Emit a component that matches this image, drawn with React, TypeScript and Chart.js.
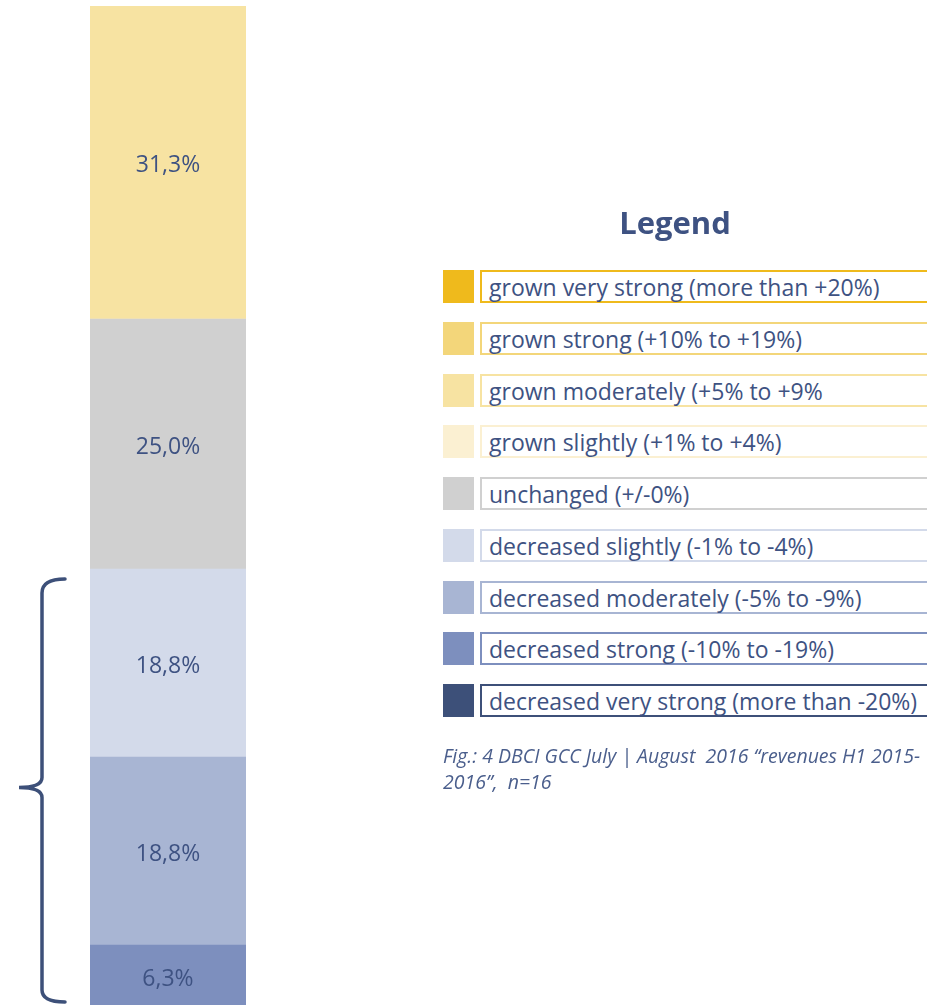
import React, { useEffect, useRef } from "react";
import { Chart, registerables } from "chart.js";

Chart.register(...registerables);

const categories = [
  "grown very strong (more than +20%)",
  "grown strong (+10% to +19%)",
  "grown moderately (+5% to +9%",
  "grown slightly (+1% to +4%)",
  "unchanged (+/-0%)",
  "decreased slightly (-1% to -4%)",
  "decreased moderately (-5% to -9%)",
  "decreased strong (-10% to -19%)",
  "decreased very strong (more than -20%)",
];
const colors = [
  "#EFBA1C",
  "#F3D67A",
  "#F7E3A2",
  "#FBF0D2",
  "#D0D0D0",
  "#D3DAEA",
  "#A8B5D3",
  "#7D8FBE",
  "#3D5079",
];
const values = [0, 0, 31.3, 0, 25.0, 18.8, 18.8, 6.3, 0];
const legendTitle = "Legend";
const captionLines = [
  "Fig.: 4 DBCI GCC July | August  2016 \u201crevenues H1 2015-",
  "2016\u201d,  n=16",
];

const TEXT = "#3E5282";
const FONT = "'Open Sans', sans-serif";

const labelPlugin = {
  id: "segLabels",
  afterDatasetsDraw(chart: any) {
    const ctx = chart.ctx;
    ctx.save();
    ctx.font = `23px ${FONT}`;
    ctx.fillStyle = TEXT;
    ctx.textAlign = "center";
    ctx.textBaseline = "middle";
    chart.data.datasets.forEach((ds: any, i: number) => {
      const v = ds.data[0];
      if (!v) return;
      const el = chart.getDatasetMeta(i).data[0];
      const yc = (el.y + el.base) / 2;
      ctx.fillText(v.toFixed(1).replace(".", ",") + "%", el.x, yc + 3);
    });
    ctx.restore();
  },
};

const bracePlugin = {
  id: "brace",
  afterDraw(chart: any) {
    const ctx = chart.ctx;
    const ys = chart.scales.y;
    const topVal = values[5] + values[6] + values[7] + values[8];
    const top = ys.getPixelForValue(topVal) + 10;
    const bottom = chart.chartArea.bottom - 3;
    const mid = (top + bottom) / 2 - 3;
    const xr = 65;
    const xv = 42;
    const xt = 19;
    ctx.save();
    ctx.strokeStyle = "#3D5079";
    ctx.lineWidth = 3.5;
    ctx.lineCap = "round";
    ctx.beginPath();
    ctx.moveTo(xr, top);
    ctx.quadraticCurveTo(xv, top, xv, top + 14);
    ctx.lineTo(xv, mid - 10);
    ctx.quadraticCurveTo(xv, mid, xt, mid);
    ctx.quadraticCurveTo(xv, mid, xv, mid + 10);
    ctx.lineTo(xv, bottom - 12);
    ctx.quadraticCurveTo(xv, bottom, xr, bottom);
    ctx.stroke();
    ctx.restore();
  },
};

export default function App() {
  const ref = useRef<HTMLCanvasElement>(null);
  useEffect(() => {
    if (!ref.current) return;
    const order = [8, 7, 6, 5, 4, 3, 2, 1, 0];
    const datasets = order.map((i) => ({
      label: categories[i],
      data: [values[i]],
      backgroundColor: colors[i],
      borderWidth: 0,
      categoryPercentage: 1,
      barPercentage: 1,
    }));
    const chart = new Chart(ref.current, {
      type: "bar",
      data: { labels: ["revenues"], datasets },
      options: {
        animation: false,
        responsive: false,
        devicePixelRatio: 1,
        layout: { padding: { left: 90, right: 681, top: 6, bottom: 0 } },
        plugins: { legend: { display: false }, tooltip: { enabled: false } },
        scales: {
          x: { stacked: true, display: false },
          y: { stacked: true, display: false, min: 0.3, max: 100.2 },
        },
      },
      plugins: [labelPlugin, bracePlugin],
    });
    return () => chart.destroy();
  }, []);

  const rowTop = (i: number) => 270 + i * 51.75;

  return (
    <div
      style={{
        position: "absolute",
        left: 0,
        top: 0,
        width: 927,
        height: 1005,
        overflow: "hidden",
        background: "#fff",
        fontFamily: FONT,
      }}
    >
      <canvas ref={ref} width={927} height={1005} style={{ position: "absolute", left: 0, top: 0 }} />
      <div
        style={{
          position: "absolute",
          left: 560,
          width: 230,
          top: 200,
          textAlign: "center",
          fontWeight: 700,
          fontSize: 31,
          lineHeight: "44px",
          color: TEXT,
        }}
      >
        {legendTitle}
      </div>
      {categories.map((c, i) => (
        <React.Fragment key={c}>
          <div
            style={{
              position: "absolute",
              left: 443,
              top: rowTop(i),
              width: 31,
              height: 33,
              background: colors[i],
            }}
          />
          <div
            style={{
              position: "absolute",
              left: 480,
              top: rowTop(i),
              width: 470,
              height: 33,
              boxSizing: "border-box",
              border: `2.5px solid ${colors[i]}`,
              background: "#fff",
              color: TEXT,
              fontSize: 23,
              lineHeight: "31px",
              paddingLeft: 7,
              whiteSpace: "nowrap",
            }}
          >
            {c}
          </div>
        </React.Fragment>
      ))}
      <div
        style={{
          position: "absolute",
          left: 443,
          top: 743,
          fontStyle: "italic",
          fontSize: 19.5,
          lineHeight: "26px",
          color: "#4A5E8C",
          whiteSpace: "pre",
        }}
      >
        {captionLines.map((l) => (
          <div key={l}>{l}</div>
        ))}
      </div>
    </div>
  );
}
